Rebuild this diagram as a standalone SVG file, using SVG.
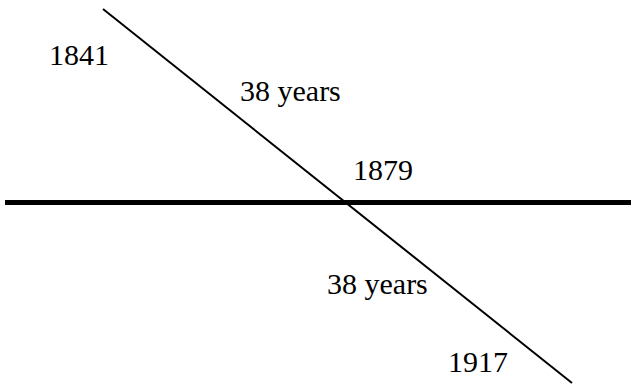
<svg xmlns="http://www.w3.org/2000/svg" width="631" height="385" viewBox="0 0 631 385">
<style>
text{font-family:"Liberation Serif","Times New Roman",serif;font-size:30px;fill:#000}
.thick{stroke:#000;stroke-width:5;fill:none}
.thin{stroke:#000;stroke-width:2;fill:none}
</style>
<rect width="631" height="385" fill="#fff"/>
<g id="connectors">
<line class="thick" x1="5" y1="202.5" x2="631" y2="202.5"/>
<line class="thin" x1="103" y1="9" x2="572" y2="383"/>
</g>
<g id="n1841"><text x="49" y="65">1841</text></g>
<g id="years1"><text x="240" y="101">38 years</text></g>
<g id="n1879"><text x="353" y="180">1879</text></g>
<g id="years2"><text x="327" y="294">38 years</text></g>
<g id="n1917"><text x="448" y="372">1917</text></g>
</svg>
